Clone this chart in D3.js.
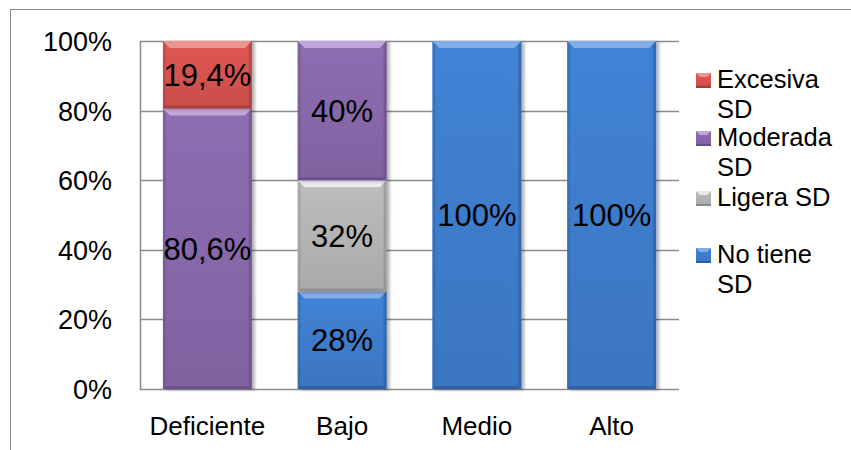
<!DOCTYPE html>
<html>
<head>
<meta charset="utf-8">
<script src="https://cdn.jsdelivr.net/npm/d3@7"></script>
<style>
  body { margin: 0; background: #fff; }
  text { font-family: "Liberation Sans", Arial, sans-serif; fill: #000; }
</style>
</head>
<body>
<script>
// data
var categories = ['Deficiente', 'Bajo', 'Medio', 'Alto'];
var seriesKeys = ['noTiene', 'ligera', 'moderada', 'excesiva'];
var seriesNames = ['No tiene SD', 'Ligera SD', 'Moderada SD', 'Excesiva SD'];
var noTiene = [0, 28, 100, 100];
var ligera = [0, 32, 0, 0];
var moderada = [80.6, 40, 0, 0];
var excesiva = [19.4, 0, 0, 0];
var yTicks = [0, 0.2, 0.4, 0.6, 0.8, 1];
var legendLines = [['Excesiva', 'SD'], ['Moderada', 'SD'], ['Ligera SD'], ['No tiene', 'SD']];

var chart = {
  width: 851,
  height: 450,
  left: 140,
  right: 679,
  top: 41,
  bottom: 389,
};

var colors = {
  noTiene: { base: '#3e7ccb', light: '#8db6ea', dark: '#2b5c9e' },
  ligera: { base: '#b3b3b3', light: '#f2f2f2', dark: '#8a8a8a' },
  moderada: { base: '#8767a9', light: '#c9b2e3', dark: '#654d85' },
  excesiva: { base: '#d4524f', light: '#f0a09e', dark: '#a33c3a' },
};

var rows = categories.map(function(c, i) {
  return { cat: c, noTiene: noTiene[i] / 100, ligera: ligera[i] / 100, moderada: moderada[i] / 100, excesiva: excesiva[i] / 100 };
});

var svg = d3.select('body').append('svg').attr('width', chart.width).attr('height', chart.height);
var defs = svg.append('defs');

seriesKeys.forEach(function(k) {
  var g = defs.append('linearGradient').attr('id', 'grad-' + k).attr('x1', 0).attr('y1', 0).attr('x2', 0).attr('y2', 1);
  g.append('stop').attr('offset', '0%').attr('stop-color', d3.color(colors[k].base).brighter(0.15));
  g.append('stop').attr('offset', '100%').attr('stop-color', d3.color(colors[k].base).darker(0.15));
});
var shadow = defs.append('filter').attr('id', 'shadow').attr('x', '-10%').attr('y', '-10%').attr('width', '130%').attr('height', '130%');
shadow.append('feDropShadow').attr('dx', 3).attr('dy', 1).attr('stdDeviation', 1.5).attr('flood-color', '#000').attr('flood-opacity', 0.3);

// outer frame
svg.append('rect').attr('x', 10.5).attr('y', 9.5).attr('width', 900).attr('height', 500)
  .attr('fill', 'none').attr('stroke', '#8c8c8c').attr('stroke-width', 1);

var x = d3.scaleBand().domain(categories).range([chart.left, chart.right]).paddingInner(0.34).paddingOuter(0.17);
var y = d3.scaleLinear().domain([0, 1]).range([chart.bottom, chart.top]);

// gridlines
svg.append('g').selectAll('line').data(yTicks).join('line')
  .attr('x1', chart.left).attr('x2', chart.right)
  .attr('y1', function(d) { return Math.round(y(d)) + 0.5; })
  .attr('y2', function(d) { return Math.round(y(d)) + 0.5; })
  .attr('stroke', '#8c8c8c').attr('stroke-width', 1.5);
svg.append('line').attr('x1', chart.left + 0.5).attr('x2', chart.left + 0.5)
  .attr('y1', chart.top).attr('y2', chart.bottom + 1)
  .attr('stroke', '#8c8c8c').attr('stroke-width', 1.5);

// y tick labels
svg.append('g').selectAll('text').data(yTicks).join('text')
  .attr('x', 112).attr('y', function(d) { return y(d) + 10; })
  .attr('text-anchor', 'end').attr('font-size', 27)
  .text(function(d) { return Math.round(d * 100) + '%'; });

// stacked bars
var stack = d3.stack().keys(seriesKeys)(rows);
var bw = x.bandwidth();
var bevel = 7;

stack.forEach(function(layer) {
  var k = layer.key;
  var g = svg.append('g');
  var segs = layer.filter(function(d) { return d[1] - d[0] > 0; });
  segs.forEach(function(d) {
    var x0 = x(d.data.cat), x1 = x0 + bw;
    var yt = y(d[1]), yb = y(d[0]);
    g.append('rect').attr('x', x0).attr('y', yt).attr('width', bw).attr('height', yb - yt)
      .attr('fill', 'url(#grad-' + k + ')').attr('filter', 'url(#shadow)');
    // top bevel
    g.append('path').attr('d', 'M' + x0 + ',' + yt + 'L' + x1 + ',' + yt + 'L' + (x1 - bevel) + ',' + (yt + bevel) + 'L' + (x0 + bevel) + ',' + (yt + bevel) + 'Z')
      .attr('fill', colors[k].light).attr('opacity', 0.85);
    // side edges
    g.append('path').attr('d', 'M' + x0 + ',' + yt + 'L' + (x0 + 3) + ',' + (yt + 3) + 'L' + (x0 + 3) + ',' + (yb - 3) + 'L' + x0 + ',' + yb + 'Z')
      .attr('fill', colors[k].dark).attr('opacity', 0.35);
    g.append('path').attr('d', 'M' + x1 + ',' + yt + 'L' + (x1 - 3) + ',' + (yt + 3) + 'L' + (x1 - 3) + ',' + (yb - 3) + 'L' + x1 + ',' + yb + 'Z')
      .attr('fill', colors[k].dark).attr('opacity', 0.6);
    // bottom bevel
    g.append('path').attr('d', 'M' + x0 + ',' + yb + 'L' + x1 + ',' + yb + 'L' + (x1 - 3) + ',' + (yb - 3) + 'L' + (x0 + 3) + ',' + (yb - 3) + 'Z')
      .attr('fill', colors[k].dark).attr('opacity', 0.8);
  });
});

// data labels
var fmt = function(v) { return (Math.round(v * 1000) / 10).toString().replace('.', ',') + '%'; };
stack.forEach(function(layer) {
  svg.append('g').selectAll('text').data(layer.filter(function(d) { return d[1] - d[0] > 0; })).join('text')
    .attr('x', function(d) { return x(d.data.cat) + bw / 2; })
    .attr('y', function(d) { return (y(d[0]) + y(d[1])) / 2 + 11; })
    .attr('text-anchor', 'middle').attr('font-size', 31)
    .text(function(d) { return fmt(d[1] - d[0]); });
});

// category labels
svg.append('g').selectAll('text').data(categories).join('text')
  .attr('x', function(d) { return x(d) + bw / 2; }).attr('y', 435)
  .attr('text-anchor', 'middle').attr('font-size', 26)
  .text(function(d) { return d; });

// legend
var legendKeys = seriesKeys.slice().reverse();
var legendTops = [88, 146, 206, 263];
var legend = svg.append('g');
legendKeys.forEach(function(k, i) {
  var base = legendTops[i];
  legend.append('rect').attr('x', 696).attr('y', base - 15).attr('width', 15).attr('height', 15)
    .attr('fill', 'url(#grad-' + k + ')');
  legend.append('path').attr('d', 'M696,' + (base - 15) + 'L711,' + (base - 15) + 'L707,' + (base - 11) + 'L700,' + (base - 11) + 'Z')
    .attr('fill', colors[k].light).attr('opacity', 0.85);
  legend.append('rect').attr('x', 696).attr('y', base - 2).attr('width', 15).attr('height', 2)
    .attr('fill', colors[k].dark);
  var t = legend.append('text').attr('x', 717).attr('y', base).attr('font-size', 25.5);
  legendLines[i].forEach(function(line, j) {
    t.append('tspan').attr('x', 717).attr('dy', j === 0 ? 0 : 29.5).text(line);
  });
});
</script>
</body>
</html>
